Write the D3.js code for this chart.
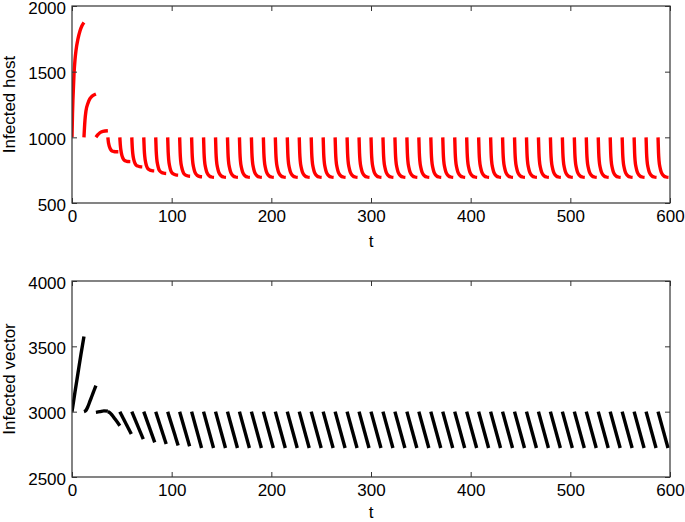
<!DOCTYPE html>
<html>
<head>
<meta charset="utf-8">
<script src="https://cdn.jsdelivr.net/npm/d3@7"></script>
<style>
  body { margin: 0; background: #fff; }
  text { font-family: "Liberation Sans", Arial, sans-serif; }
</style>
</head>
<body>
<div id="chart"></div>
<script>
//Impulse times (period 12)
var impulseT = [0, 12, 24, 36, 48, 60, 72, 84, 96, 108, 120, 132, 144, 156, 168, 180,
    192, 204, 216, 228, 240, 252, 264, 276, 288, 300, 312, 324, 336, 348, 360, 372,
    384, 396, 408, 420, 432, 444, 456, 468, 480, 492, 504, 516, 528, 540, 552, 564, 576, 588];

//Tick values
var xTicks = [0, 100, 200, 300, 400, 500, 600];
var hostTicks = [500, 1000, 1500, 2000];
var vectorTicks = [2500, 3000, 3500, 4000];

//Infected host: first three segments (t, value)
var hostSeg1 = [[0, 1000], [0.5, 1180], [1, 1300], [2, 1480], [3, 1590], [4, 1660], [6, 1750], [8, 1810], [10, 1850], [12, 1875]];
var hostSeg2 = [[12, 1000], [13, 1130], [14, 1200], [16, 1260], [18, 1295], [20, 1312], [24, 1330]];
var hostSeg3 = [[24, 1000], [26, 1020], [28, 1035], [31, 1045], [36, 1050]];

//Infected host: decaying teeth, values at offsets after each impulse
var hostOffsets = [0, 0.5, 1, 2, 3, 4, 6, 8, 10.5];
var hostTeeth = [
    [1000, 965, 945, 920, 905, 897, 892, 890, 890],   // t=36
    [1000, 940, 905, 865, 843, 830, 820, 816, 815],   // t=48
    [1000, 920, 875, 830, 805, 792, 781, 777, 775],   // t=60
    [1000, 905, 855, 805, 778, 763, 752, 747, 745],   // t=72
    [1000, 895, 840, 790, 760, 744, 732, 727, 725],   // t=84
    [1000, 888, 830, 780, 750, 733, 720, 714, 712],   // t=96
    [1000, 884, 825, 775, 745, 727, 712, 706, 704],   // t=108
    [1000, 882, 822, 772, 742, 724, 708, 702, 700]    // t=120
];
//Steady tooth (t >= 132)
var hostSteady = [1000, 880, 820, 770, 740, 722, 705, 698, 695];

//Infected vector: first segments (t, value)
var vectorSeg1 = [[0, 3000], [3, 3150], [6, 3295], [9, 3440], [12, 3575]];
var vectorSeg2 = [[12, 3000], [14, 3010], [16, 3040], [18, 3080], [20, 3120], [22, 3160], [24, 3200]];
var vectorSeg3 = [[24, 2995], [28, 3000], [32, 3006], [36, 3004]];
var vectorSeg4 = [[36, 3000], [38, 2992], [40, 2975], [43, 2945], [48, 2893]];
//Straight teeth: [start value, end offset, end value]
var vectorTeeth = [
    [3000, 11.5, 2829],   // t=48
    [3000, 11.5, 2790],   // t=60
    [3000, 11.0, 2765],   // t=72
    [3000, 10.5, 2752],   // t=84
    [3000, 10.5, 2742],   // t=96
    [3000, 10.0, 2735]    // t=108
];
var vectorSteady = [3000, 10.0, 2722];

//Build segment lists
var hostSegments = [hostSeg1, hostSeg2, hostSeg3];
impulseT.slice(3).forEach(function(t0, i) {
    var vals = i < hostTeeth.length ? hostTeeth[i] : hostSteady;
    hostSegments.push(hostOffsets.map(function(o, j) { return [t0 + o, vals[j]]; }));
});

var vectorSegments = [vectorSeg1, vectorSeg2, vectorSeg3, vectorSeg4];
impulseT.slice(4).forEach(function(t0, i) {
    var v = i < vectorTeeth.length ? vectorTeeth[i] : vectorSteady;
    vectorSegments.push([[t0, v[0]], [t0 + v[1], v[2]]]);
});

//SVG area
var svgWidth = 685;
var svgHeight = 522;

var svg = d3.select("#chart")
    .append("svg")
    .attr("width", svgWidth)
    .attr("height", svgHeight);

var plotLeft = 72, plotRight = 670;

var xScale = d3.scaleLinear().domain([0, 600]).range([plotLeft, plotRight]);

var panels = [
    {top: 6, bottom: 203, domain: [500, 2000], ticks: hostTicks, label: "Infected host",
        segments: hostSegments, color: "#ff0000", id: "clipHost", tLabelY: 247},
    {top: 281, bottom: 477, domain: [2500, 4000], ticks: vectorTicks, label: "Infected vector",
        segments: vectorSegments, color: "#000000", id: "clipVector", tLabelY: 518}
];

panels.forEach(function(p) {
    var yScale = d3.scaleLinear().domain(p.domain).range([p.bottom, p.top]);
    var h = p.bottom - p.top;

    svg.append("clipPath").attr("id", p.id)
        .append("rect")
        .attr("x", plotLeft).attr("y", p.top)
        .attr("width", plotRight - plotLeft).attr("height", h);

    //Data lines
    var line = d3.line()
        .x(d => xScale(d[0]))
        .y(d => yScale(d[1]))
        .curve(d3.curveMonotoneX);

    svg.append("g")
        .attr("clip-path", `url(#${p.id})`)
        .selectAll("path")
        .data(p.segments)
        .enter()
        .append("path")
        .attr("d", line)
        .attr("fill", "none")
        .attr("stroke", p.color)
        .attr("stroke-width", 3.4);

    //Axes (ticks inside, MATLAB style)
    var bottomAxis = d3.axisBottom(xScale).tickValues(xTicks).tickFormat(d3.format("d"))
        .tickSizeInner(-5).tickSizeOuter(0).tickPadding(7);
    var topAxis = d3.axisTop(xScale).tickValues(xTicks).tickSizeInner(-5).tickSizeOuter(0).tickFormat("");
    var leftAxis = d3.axisLeft(yScale).tickValues(p.ticks).tickFormat(d3.format("d"))
        .tickSizeInner(-5).tickSizeOuter(0).tickPadding(6);
    var rightAxis = d3.axisRight(yScale).tickValues(p.ticks).tickSizeInner(-5).tickSizeOuter(0).tickFormat("");

    var axes = [
        svg.append("g").attr("transform", `translate(0, ${p.bottom})`).call(bottomAxis),
        svg.append("g").attr("transform", `translate(0, ${p.top})`).call(topAxis),
        svg.append("g").attr("transform", `translate(${plotLeft}, 0)`).call(leftAxis),
        svg.append("g").attr("transform", `translate(${plotRight}, 0)`).call(rightAxis)
    ];
    axes.forEach(function(a) {
        a.select(".domain").remove();
        a.selectAll("line").attr("stroke", "#333");
        a.selectAll("text").attr("font-size", "17px").attr("fill", "#000")
            .attr("font-family", "'Liberation Sans', Arial, sans-serif");
    });
    //nudge y tick labels down a touch so the top one stays inside the page
    axes[2].selectAll("text").attr("dy", "0.42em");

    //Box
    svg.append("rect")
        .attr("x", plotLeft).attr("y", p.top)
        .attr("width", plotRight - plotLeft).attr("height", h)
        .attr("fill", "none")
        .attr("stroke", "#333")
        .attr("stroke-width", 1.2);

    //Axis labels
    svg.append("text")
        .attr("transform", `translate(15, ${(p.top + p.bottom) / 2}) rotate(-90)`)
        .attr("text-anchor", "middle")
        .attr("font-size", "17px")
        .text(p.label);

    svg.append("text")
        .attr("x", (plotLeft + plotRight) / 2)
        .attr("y", p.tLabelY)
        .attr("text-anchor", "middle")
        .attr("font-size", "17px")
        .text("t");
});
</script>
</body>
</html>
